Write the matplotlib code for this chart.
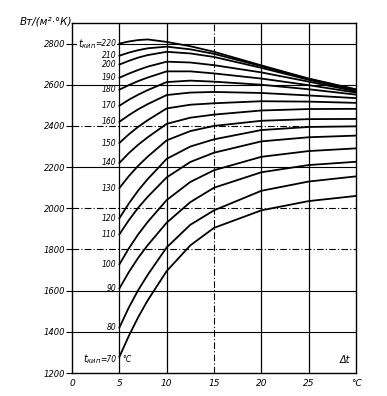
import matplotlib
matplotlib.use("Agg")
import matplotlib.pyplot as plt

# Boiling temperature of each curve (°C)
t_boil = [70, 80, 90, 100, 110, 120, 130, 140, 150, 160, 170, 180, 190, 200, 210, 220]

# Temperature difference Δt, °C
dt = [5, 6, 7, 8, 10, 12.5, 15, 20, 25, 30]

# Heat transfer coefficient, W/(m²·K), one list per boiling temperature
k70 = [1278, 1380, 1472, 1553, 1695, 1820, 1905, 1990, 2035, 2060]
k80 = [1420, 1518, 1603, 1677, 1810, 1920, 1990, 2085, 2130, 2155]
k90 = [1610, 1690, 1760, 1821, 1930, 2030, 2100, 2175, 2210, 2226]
k100 = [1727, 1805, 1874, 1934, 2040, 2128, 2185, 2250, 2278, 2291]
k110 = [1873, 1942, 2003, 2056, 2150, 2225, 2270, 2325, 2345, 2353]
k120 = [1951, 2023, 2087, 2142, 2240, 2300, 2335, 2380, 2395, 2398]
k130 = [2098, 2156, 2207, 2251, 2330, 2375, 2400, 2425, 2433, 2434]
k140 = [2220, 2268, 2309, 2345, 2410, 2440, 2455, 2475, 2482, 2483]
k150 = [2317, 2359, 2396, 2428, 2485, 2503, 2510, 2520, 2518, 2512]
k160 = [2420, 2452, 2481, 2506, 2550, 2562, 2565, 2560, 2548, 2535]
k170 = [2498, 2527, 2552, 2574, 2613, 2620, 2615, 2600, 2578, 2552]
k180 = [2576, 2598, 2618, 2635, 2665, 2665, 2655, 2630, 2598, 2562]
k190 = [2634, 2654, 2672, 2688, 2712, 2708, 2695, 2660, 2615, 2568]
k200 = [2698, 2716, 2732, 2744, 2760, 2752, 2735, 2682, 2624, 2573]
k210 = [2741, 2756, 2768, 2777, 2785, 2772, 2750, 2690, 2628, 2576]
k220 = [2800, 2810, 2817, 2820, 2808, 2787, 2760, 2694, 2630, 2578]

curves = [k70, k80, k90, k100, k110, k120, k130, k140, k150, k160,
          k170, k180, k190, k200, k210, k220]

y_ticks = [1200, 1400, 1600, 1800, 2000, 2200, 2400, 2600, 2800]
x_ticks = [0, 5, 10, 15, 20, 25, 30]
x_ticklabels = ["0", "5", "10", "15", "20", "25", "°C"]

fig = plt.figure(figsize=(3.87, 3.96), dpi=100)
ax = fig.add_axes([0.186, 0.058, 0.734, 0.884])
ax.set_xlim(0, 30)
ax.set_ylim(1200, 2900)

# grid
solid_h = [1400, 1600, 2200, 2600, 2800]
dash_h = [1800, 2000, 2400]
for yv in solid_h:
    ax.axhline(yv, color="black", lw=0.8, zorder=1)
for yv in dash_h:
    ax.axhline(yv, color="black", lw=0.8, ls=(0, (6, 2, 1, 2)), zorder=1)
for xv in [5, 10, 20, 25]:
    ax.axvline(xv, color="black", lw=0.9, zorder=1)
ax.axvline(15, color="black", lw=0.8, ls=(0, (6, 2, 1, 2)), zorder=1)

for vals in curves:
    ax.plot(dt, vals, color="black", lw=1.3, solid_capstyle="round", zorder=3)

# labels of the curves along Δt = 5
for tb, vals in zip(t_boil, curves):
    if tb in (70, 220):
        continue
    ax.text(4.7, vals[0], str(tb), ha="right", va="center",
            fontsize=5.5, style="italic", zorder=4)

ax.text(0.6, 2795, r"$t_{\mathit{кип}}$", ha="left", va="center",
        fontsize=7, style="italic", zorder=4,
        bbox=dict(facecolor="white", edgecolor="none", pad=0.2))
ax.text(4.7, 2800, "=220", ha="right", va="center", fontsize=5.5,
        style="italic", zorder=5,
        bbox=dict(facecolor="white", edgecolor="none", pad=0.1))
ax.text(1.2, k70[0] - 12, r"$t_{\mathit{кип}}$", ha="left", va="center",
        fontsize=7, style="italic", zorder=4)
ax.text(4.7, k70[0] - 10, "=70", ha="right", va="center", fontsize=5.5,
        style="italic", zorder=4)
ax.text(5.3, k70[0] - 10, "°C", ha="left", va="center", fontsize=5.5,
        style="italic", zorder=4)

ax.text(29.4, 1265, "Δt", ha="right", va="center", fontsize=7,
        style="italic")

ax.set_yticks(y_ticks)
ax.set_yticklabels([str(v) for v in y_ticks], fontsize=6, style="italic")
ax.set_xticks(x_ticks)
ax.set_xticklabels(x_ticklabels, fontsize=6.5, style="italic")
ax.tick_params(axis="y", direction="out", length=4, width=0.8, pad=1)
ax.tick_params(axis="x", length=0, pad=4)
for s in ax.spines.values():
    s.set_linewidth(1.0)

fig.text(0.05, 0.945, "Вт/(м²·°К)", fontsize=7.5, style="italic",
         ha="left", va="center")

fig.savefig("out.png", dpi=100)
